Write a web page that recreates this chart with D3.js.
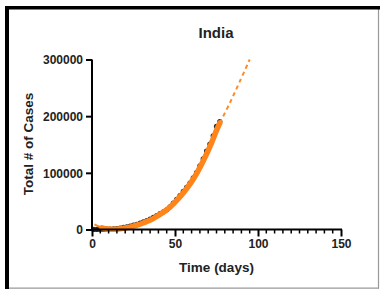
<!DOCTYPE html>
<html lang="en">
  <head>
    <meta charset="utf-8">
    <title>India</title>
    <script src="https://cdnjs.cloudflare.com/ajax/libs/d3/7.8.5/d3.min.js"></script>
    <style type="text/css">
      body { margin: 0; background: #fff; }
      text { font-family: "Liberation Sans", Arial, sans-serif; font-weight: bold; fill: #222; }
    </style>
  </head>
  <body>
    <script type="text/javascript">

    // observed cumulative cases (black points)
    var dataDays  = [1, 3, 5, 7, 9, 11, 13, 15, 17, 19, 21, 23, 25, 27, 29, 31, 33, 35, 37, 39,
                     41, 43, 45, 47, 49, 51, 53, 55, 57, 59, 61, 63, 65, 67, 69, 71, 73, 75, 77];
    var dataCases = [137, 194, 330, 468, 657, 887, 1139, 1635, 2543, 3588, 4778, 5916, 7600, 9205,
                     11487, 13430, 15712, 18539, 21370, 24530, 27890, 31324, 34863, 39980, 46433,
                     52987, 59662, 67161, 74281, 81997, 90927, 100328, 112359, 124794, 138536,
                     150793, 165386, 181827, 190535];

    // fitted curve (orange)
    var fitDays  = [1.5, 4, 6, 8, 12, 16, 20, 24, 28, 32, 36, 40, 44, 48, 52, 56, 60, 64, 68, 72, 75, 77];
    var fitCases = [9000, 5500, 3000, 1200, 300, 900, 2600, 5200, 8500, 13000, 17800, 25000,
                    32500, 42500, 54500, 68500, 84500, 104000, 127000, 153000, 175000, 188000];

    // projection (dashed)
    var projDays  = [77, 83, 89, 95];
    var projCases = [188000, 223000, 261000, 300000];

    var xTicks = [0, 50, 100, 150];
    var yTicks = [0, 100000, 200000, 300000];

    var w = 380;
    var h = 289;

    var svg = d3.select("body")
                .append("svg")
                .attr("width", w)
                .attr("height", h);

    // frame
    svg.append("rect").attr("x", 0).attr("y", 0).attr("width", w).attr("height", h).attr("fill", "#fff");
    svg.append("line").attr("x1", 378.5).attr("x2", 378.5).attr("y1", 8).attr("y2", 288.5)
       .attr("stroke", "#999").attr("stroke-width", 1.2);
    svg.append("line").attr("x1", 8).attr("x2", 379).attr("y1", 288.2).attr("y2", 288.2)
       .attr("stroke", "#999").attr("stroke-width", 1.2);
    svg.append("rect").attr("x", 5).attr("y", 6).attr("width", w - 5).attr("height", 3.5).attr("fill", "#000");
    svg.append("rect").attr("x", 5).attr("y", 6).attr("width", 4).attr("height", h - 6).attr("fill", "#000");

    var x = d3.scaleLinear().domain([0, 150]).range([92, 341]);
    var y = d3.scaleLinear().domain([0, 300000]).range([229.5, 59.5]);

    var plot = svg.append("g");

    plot.selectAll("circle.pt")
        .data(dataDays)
        .enter()
        .append("circle")
        .attr("class", "pt")
        .attr("cx", function(d) { return x(d); })
        .attr("cy", function(d, i) { return y(dataCases[i]); })
        .attr("r", 2.6)
        .attr("fill", "#2a2a2a");

    var line = d3.line()
                 .x(function(d) { return x(d[0]); })
                 .y(function(d) { return y(d[1]); })
                 .curve(d3.curveCatmullRom);

    var fitPts = fitDays.map(function(d, i) { return [d, fitCases[i]]; });

    // thin tail at the start
    plot.append("path")
        .datum(fitPts.filter(function(d) { return d[0] <= 8; }))
        .attr("d", line)
        .attr("fill", "none")
        .attr("stroke", "#ff8419")
        .attr("stroke-width", 2);

    // thick part
    plot.append("path")
        .datum(fitPts.filter(function(d) { return d[0] >= 6; }))
        .attr("d", line)
        .attr("fill", "none")
        .attr("stroke", "#ff8419")
        .attr("stroke-width", 5.5)
        .attr("stroke-linecap", "round");

    plot.append("path")
        .datum(projDays.map(function(d, i) { return [d, projCases[i]]; }))
        .attr("d", line)
        .attr("fill", "none")
        .attr("stroke", "#ff8a2a")
        .attr("stroke-width", 2)
        .attr("stroke-dasharray", "4,3.5");

    // axes
    var yAxis = d3.axisLeft(y).tickValues(yTicks).tickSize(6).tickPadding(3)
                  .tickFormat(d3.format("d"));
    var gy = svg.append("g").attr("transform", "translate(92,0)").call(yAxis);
    gy.select(".domain").attr("stroke-width", 2).attr("d", "M0,59.5V230.5");
    gy.selectAll(".tick line").attr("stroke-width", 2);
    gy.selectAll(".tick text").style("font-size", "12px").attr("dy", "0.35em");

    var minor = d3.range(0, 151, 5).filter(function(d) { return d % 50 !== 0; });
    var gxm = svg.append("g").attr("transform", "translate(0,229.5)");
    gxm.selectAll("line")
       .data(minor)
       .enter()
       .append("line")
       .attr("x1", function(d) { return x(d); })
       .attr("x2", function(d) { return x(d); })
       .attr("y1", 0)
       .attr("y2", 4)
       .attr("stroke", "#000")
       .attr("stroke-width", 1.5);

    var xAxis = d3.axisBottom(x).tickValues(xTicks).tickSize(7).tickPadding(3);
    var gx = svg.append("g").attr("transform", "translate(0,229.5)").call(xAxis);
    gx.select(".domain").attr("stroke-width", 2).attr("d", "M91,0H342");
    gx.selectAll(".tick line").attr("stroke-width", 2);
    gx.selectAll(".tick text").style("font-size", "12px");

    // titles
    svg.append("text")
       .text("India")
       .attr("x", 216)
       .attr("y", 37.5)
       .attr("text-anchor", "middle")
       .style("font-size", "15px");

    svg.append("text")
       .text("Time (days)")
       .attr("x", 216.5)
       .attr("y", 271.5)
       .attr("text-anchor", "middle")
       .style("font-size", "13.5px");

    svg.append("text")
       .text("Total # of Cases")
       .attr("transform", "translate(33,144) rotate(-90)")
       .attr("text-anchor", "middle")
       .style("font-size", "13.5px");

    </script>
  </body>
</html>
